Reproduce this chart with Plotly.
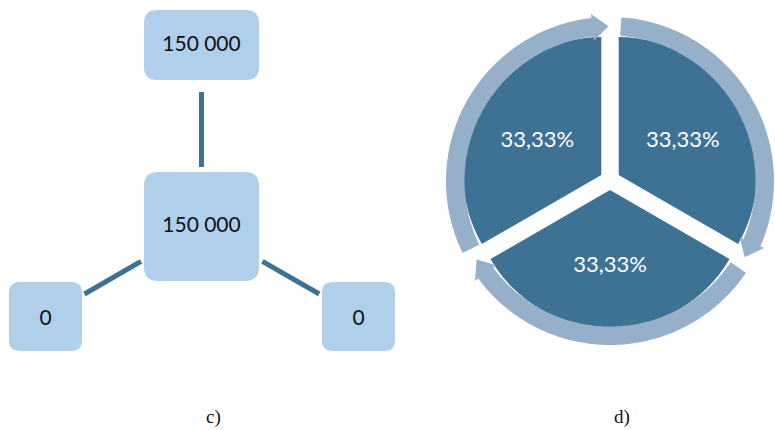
import math
import plotly.graph_objects as go

# ---- data -------------------------------------------------------------
# Panel c: tree of four nodes (root with three children)
node_names = ["top", "root", "left", "right"]
node_values = [150000, 150000, 0, 0]
edges = [("root", "top"), ("root", "left"), ("root", "right")]

# Panel d: cycle of three equal segments
segment_labels = ["S1", "S2", "S3"]
segment_values = [1, 1, 1]

panel_captions = ["c)", "d)"]

# ---- styling / layout ---------------------------------------------------
W, H = 775, 430
BOX_FILL = "#b0cfeb"
DARK = "#3e7295"
RING = "#95b0c8"
TEXT_FONT = "Lato"

# node box geometry in pixel space: centre x, centre y, width, height, corner radius
node_box = {
    "top": (201.5, 45, 115, 70, 13),
    "root": (201.5, 226.5, 115, 109, 14),
    "left": (45.5, 316.5, 73, 69, 11),
    "right": (358.5, 316.5, 73, 69, 11),
}
# connector extent as fractions of the centre-to-centre distance
edge_span = {
    ("root", "top"): (0.328, 0.741),
    ("root", "left"): (0.388, 0.75),
    ("root", "right"): (0.388, 0.75),
}
label_dy = {"top": 1.0, "root": 0.0, "left": 3.0, "right": 3.0}

# cycle diagram geometry
PIE_CX, PIE_CY, PIE_R = 610, 180, 138
PULL = 0.0725
RING_CX, RING_CY, RING_IN, RING_OUT = 610, 181, 145.5, 164
caption_pos = [(213, 417), (622, 417)]


def fmt_thousands(v):
    return f"{v:,}".replace(",", " ")


def rounded_rect(cx, cy, w, h, r):
    x0, x1, y0, y1 = cx - w / 2, cx + w / 2, cy - h / 2, cy + h / 2
    return (f"M {x0 + r},{y0} L {x1 - r},{y0} Q {x1},{y0} {x1},{y0 + r} "
            f"L {x1},{y1 - r} Q {x1},{y1} {x1 - r},{y1} L {x0 + r},{y1} "
            f"Q {x0},{y1} {x0},{y1 - r} L {x0},{y0 + r} Q {x0},{y0} {x0 + r},{y0} Z")


def polar(cx, cy, r, deg):
    t = math.radians(deg)
    return cx + r * math.sin(t), cy - r * math.cos(t)


def arc_arrow(a0, a1):
    start, base, tip = a0 + 4.0, a1 - 6.5, a1 - 0.5
    n = max(2, int((base - start) / 1.0))
    outer = [polar(RING_CX, RING_CY, RING_OUT, start + (base - start) * i / n) for i in range(n + 1)]
    inner = [polar(RING_CX, RING_CY, RING_IN, start + (base - start) * i / n) for i in range(n + 1)][::-1]
    ext = 4.0
    head = [polar(RING_CX, RING_CY, RING_OUT + ext, base),
            polar(RING_CX, RING_CY, (RING_IN + RING_OUT) / 2, tip),
            polar(RING_CX, RING_CY, RING_IN - ext, base)]
    pts = outer + head + inner
    return "M " + " L ".join(f"{x:.2f},{y:.2f}" for x, y in pts) + " Z"


fig = go.Figure()
shapes = []

# connectors
for parent, child in edges:
    px, py = node_box[parent][:2]
    cx, cy = node_box[child][:2]
    f0, f1 = edge_span[(parent, child)]
    fig.add_trace(go.Scatter(
        x=[px + (cx - px) * f0, px + (cx - px) * f1],
        y=[py + (cy - py) * f0, py + (cy - py) * f1],
        mode="lines", line=dict(color=DARK, width=5),
        hoverinfo="skip", showlegend=False))

# node boxes
for name in node_names:
    shapes.append(dict(type="path", path=rounded_rect(*node_box[name]),
                       xref="x", yref="y", fillcolor=BOX_FILL,
                       line=dict(width=0), layer="below"))

# node labels
fig.add_trace(go.Scatter(
    x=[node_box[n][0] for n in node_names],
    y=[node_box[n][1] + label_dy[n] for n in node_names],
    text=[fmt_thousands(v) for v in node_values],
    mode="text", textposition="middle center",
    textfont=dict(family=TEXT_FONT, size=21, color="#111111"),
    hoverinfo="skip", showlegend=False))

# cycle pie
half = PIE_R * (1 + PULL)
fig.add_trace(go.Pie(
    values=segment_values, labels=segment_labels, sort=False,
    direction="clockwise", rotation=0, pull=[PULL] * len(segment_values),
    marker=dict(colors=[DARK] * len(segment_values), line=dict(width=0)),
    texttemplate="%{percent:.2%}", textposition="inside",
    insidetextorientation="horizontal",
    textfont=dict(family=TEXT_FONT, size=22, color="white"),
    hoverinfo="skip", showlegend=False,
    domain=dict(x=[(PIE_CX - half) / W, (PIE_CX + half) / W],
                y=[(H - PIE_CY - half) / H, (H - PIE_CY + half) / H])))

# ring arrows following each segment
total = sum(segment_values)
acc = 0.0
for v in segment_values:
    a0 = 360.0 * acc / total
    acc += v
    a1 = 360.0 * acc / total
    shapes.append(dict(type="path", path=arc_arrow(a0, a1), xref="x", yref="y",
                       fillcolor=RING, line=dict(width=0), layer="above"))

annotations = [dict(x=x, y=y, xref="x", yref="y", text=t, showarrow=False,
                    font=dict(family="Liberation Serif", size=19, color="#111111"))
               for t, (x, y) in zip(panel_captions, caption_pos)]

fig.update_layout(
    width=W, height=H, margin=dict(l=0, r=0, t=0, b=0),
    paper_bgcolor="white", plot_bgcolor="white",
    separators=", ",
    xaxis=dict(range=[0, W], visible=False, fixedrange=True),
    yaxis=dict(range=[H, 0], visible=False, fixedrange=True),
    shapes=shapes, annotations=annotations,
)

fig.write_html("out.html")
